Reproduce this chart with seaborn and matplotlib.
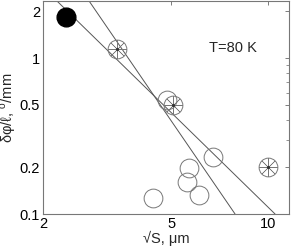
import numpy as np
import pandas as pd
import matplotlib
matplotlib.use("Agg")
import matplotlib.pyplot as plt
import seaborn as sns

# open circles
open_x = [4.84, 4.38, 5.68, 5.60, 6.11, 6.73]
open_y = [0.538, 0.126, 0.198, 0.160, 0.132, 0.233]
# crossed circles
cross_x = [3.39, 5.08, 10.0]
cross_y = [1.14, 0.497, 0.199]
# filled point
full_x = [2.35]
full_y = [1.82]
# fit lines (end points)
fit3_x = [2.78, 7.89]
fit3_y = [2.32, 0.10]
fit2_x = [2.21, 10.5]
fit2_y = [2.32, 0.10]

sns.set_style("white")
plt.rcParams["font.family"] = ["Liberation Sans", "DejaVu Sans"]
plt.rcParams["mathtext.fontset"] = "custom"
plt.rcParams["mathtext.rm"] = "Liberation Sans"

fig = plt.figure(figsize=(2.94, 2.5), dpi=100)
ax = fig.add_axes([43/294, 1 - 214/250, (289 - 43)/294, (214 - 1)/250])

gray = "#555555"
mk = "#777777"
sns.lineplot(x=fit3_x, y=fit3_y, ax=ax, color=gray, lw=0.7)
sns.lineplot(x=fit2_x, y=fit2_y, ax=ax, color=gray, lw=0.7)

ms = 13.5
ax.plot(open_x, open_y, ls="none", marker="o", ms=ms, mfc="none", mec=mk, mew=0.7)
ax.plot(cross_x, cross_y, ls="none", marker="o", ms=ms, mfc="none", mec=mk, mew=0.7)
ax.plot(cross_x, cross_y, ls="none", marker=(8, 2, 0), ms=ms, mec=mk, mew=0.4)
ax.plot(cross_x, cross_y, ls="none", marker=".", ms=2.5, color="#333333")
ax.plot(full_x, full_y, ls="none", marker="o", ms=ms, color="black")

ax.set_xscale("log")
ax.set_yscale("log")
ax.set_xlim(2, 11.6)
ax.set_ylim(0.1, 2.32)
ax.set_xticks([2, 5, 10])
ax.set_xticklabels(["2", "5", "10"])
ax.xaxis.set_minor_locator(matplotlib.ticker.NullLocator())
ax.set_yticks([0.1, 0.2, 0.5, 1, 2])
ax.set_yticklabels(["0.1", "0.2", "0.5", "1", "2"])
ax.yaxis.set_minor_formatter(matplotlib.ticker.NullFormatter())

ax.tick_params(which="both", direction="in", top=True, right=True, colors="#666666",
               labelcolor="black", labelsize=10.5)
ax.tick_params(which="major", length=3, width=0.6, pad=2)
ax.tick_params(which="minor", length=2, width=0.5)
for s in ax.spines.values():
    s.set_color("#777777")
    s.set_linewidth(0.8)

ax.set_xlabel(r"√S, μm", fontsize=10.5, labelpad=0)
ax.set_ylabel(r"δφ/ℓ, $^{\rm o}$/mm", fontsize=10.5, labelpad=1)
ax.text(233, 250 - 48, "T=80 K", transform=None, fontsize=10.5, ha="center", va="center")

fig.savefig("out.png", dpi=100)
